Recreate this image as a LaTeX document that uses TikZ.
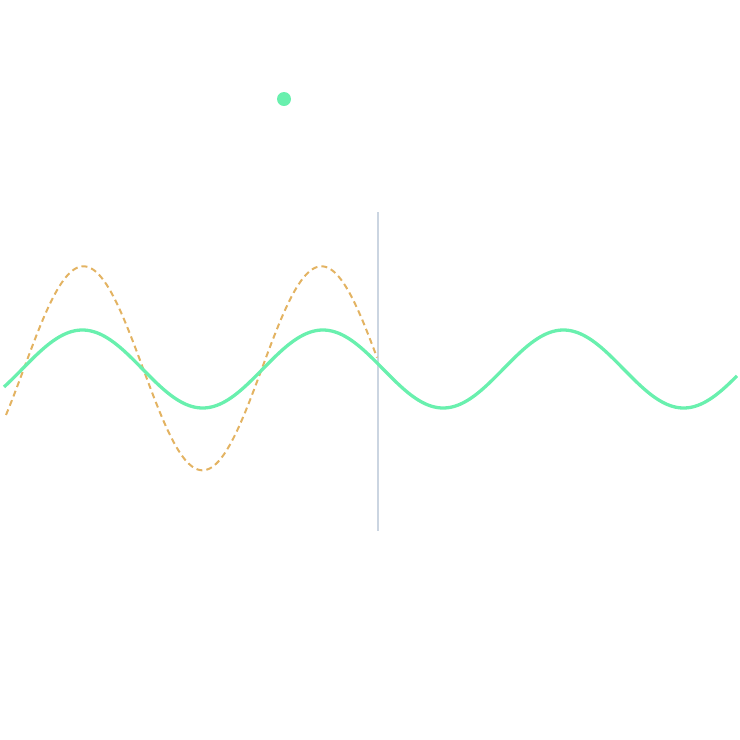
\documentclass[tikz,border=0pt]{standalone}
\definecolor{wavegreen}{HTML}{69F0AE}
\definecolor{waveorange}{HTML}{E3B362}
\definecolor{axisgray}{HTML}{CBD5E1}
\tikzset{
  mainwave/.style={draw=wavegreen,line width=3.3pt,smooth},
  sumwave/.style={draw=waveorange,line width=2pt,dash pattern=on 6pt off 4pt,smooth},
  cursor/.style={draw=axisgray,line width=2pt}
}
\begin{document}
\begin{tikzpicture}[x=1pt,y=-1pt]
\useasboundingbox (0,0) rectangle (740,740);
\coordinate (ctop) at (378,212);
\coordinate (cbot) at (378,531);
\draw[cursor] (ctop) -- (cbot);
\draw[sumwave] plot[domain=6:377,samples=200] (\x,{368.3-102*sin((\x-24)*1.5126)});
\draw[mainwave] plot[domain=4:737,samples=300] (\x,{369-39*sin((\x-22.3)*1.4969)});
\fill[wavegreen] (284,99) circle (7);
\end{tikzpicture}
\end{document}
